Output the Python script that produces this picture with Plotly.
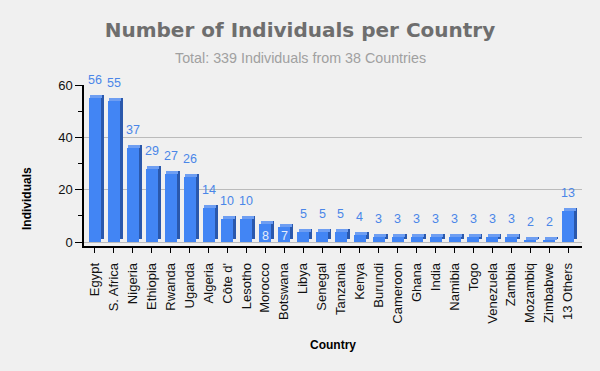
import plotly.graph_objects as go

countries = ["Egypt", "S. Africa", "Nigeria", "Ethiopia", "Rwanda", "Uganda", "Algeria",
             "Côte d'", "Lesotho", "Morocco", "Botswana", "Libya", "Senegal", "Tanzania",
             "Kenya", "Burundi", "Cameroon", "Ghana", "India", "Namibia", "Togo",
             "Venezuela", "Zambia", "Mozambiq", "Zimbabwe", "13 Others"]
counts = [56, 55, 37, 29, 27, 26, 14, 10, 10, 8, 7, 5, 5, 5, 4, 3, 3, 3, 3, 3, 3, 3, 3, 2, 2, 13]
label_inside = ["Morocco", "Botswana"]
y_tick_vals = [0, 20, 40, 60]
y_minor_vals = [10, 30, 50]

title_text = "Number of Individuals per Country"
subtitle_text = "Total: 339 Individuals from 38 Countries"

# style
FRONT = "#4285F4"
SIDE = "#2A58AC"
TOP = "#6E9EF2"
LABEL = "#4A86E8"
BG = "#F0F0F0"
FONT = "Liberation Sans"

W, H = 600, 371
ML, MR, MT, MB = 84, 18, 85, 125
plot_w = W - ML - MR
plot_h = H - MT - MB
y_range = [-1.5, 60]
px_per_unit = plot_h / (y_range[1] - y_range[0])
n = len(countries)
x_range = [-11 / 19, n - 1 + 14 / 19]
px_per_cat = plot_w / (x_range[1] - x_range[0])

bar_w = 12 / px_per_cat
dx = 3 / px_per_cat
dy = 3 / px_per_unit

idx = list(range(n))
front_h = [v - dy for v in counts]

fig = go.Figure()
# side (depth) face
fig.add_trace(go.Bar(x=idx, y=[v - dy for v in counts], base=[dy] * n, width=bar_w,
                     offset=-bar_w / 2 + dx, marker=dict(color=SIDE, line=dict(width=0)),
                     hoverinfo="skip", showlegend=False))
# top face
fig.add_trace(go.Bar(x=idx, y=[dy] * n, base=[v - dy for v in counts], width=bar_w,
                     offset=-bar_w / 2 + dx * 0.5, marker=dict(color=TOP, line=dict(width=0)),
                     hoverinfo="skip", showlegend=False))
# front face
fig.add_trace(go.Bar(x=idx, y=front_h, base=[0] * n, width=bar_w, offset=-bar_w / 2,
                     marker=dict(color=FRONT, line=dict(width=0)),
                     hovertemplate="%{customdata}: %{text}<extra></extra>",
                     customdata=countries, text=[str(v) for v in counts], textposition="none",
                     showlegend=False))

annotations = []
for i, (c, v) in enumerate(zip(countries, counts)):
    if c in label_inside:
        annotations.append(dict(x=i, y=0, xref="x", yref="y", text=str(v), showarrow=False,
                                xanchor="center", yanchor="middle", yshift=6,
                                font=dict(family=FONT, size=12.5, color="#E4ECFB")))
    else:
        annotations.append(dict(x=i, y=v, xref="x", yref="y", text=str(v), showarrow=False,
                                xanchor="center", yanchor="middle", yshift=15,
                                font=dict(family=FONT, size=12.5, color=LABEL)))

annotations += [
    dict(text=subtitle_text, xref="paper", yref="paper", x=(300 - ML) / plot_w,
         y=1 + (MT - 58) / plot_h, xanchor="center", yanchor="middle", showarrow=False,
         font=dict(family=FONT, size=14.3, color="#A0A0A0")),
    dict(text="<b>Individuals</b>", xref="paper", yref="paper", x=(27 - ML) / plot_w,
         y=(H - MB - 199) / plot_h, textangle=-90, xanchor="center", yanchor="middle",
         showarrow=False, font=dict(family=FONT, size=12, color="#000000")),
    dict(text="<b>Country</b>", xref="paper", yref="paper", x=0.5,
         y=(H - MB - 345) / plot_h, xanchor="center", yanchor="middle",
         showarrow=False, font=dict(family=FONT, size=12, color="#000000")),
]

fig.update_layout(
    width=W, height=H,
    margin=dict(l=ML, r=MR, t=MT, b=MB, pad=0),
    paper_bgcolor=BG, plot_bgcolor=BG,
    barmode="overlay", bargap=0,
    font=dict(family=FONT, size=12, color="#222222"),
    title=dict(text=title_text, x=0.5, xanchor="center", xref="container",
               y=1 - 30 / H, yanchor="middle", yref="container",
               font=dict(family="DejaVu Sans", size=20, color="#6E6E6E", weight="bold")),
    xaxis=dict(range=x_range, tickmode="array", tickvals=idx, ticktext=countries,
               tickangle=-90, ticks="outside", ticklen=5, tickcolor="#000000",
               ticklabelstandoff=5,
               showline=True, linecolor="#000000", linewidth=1.5, showgrid=False,
               zeroline=False, tickfont=dict(family=FONT, size=13, color="#111111"),
               fixedrange=True),
    yaxis=dict(range=y_range, tickmode="array", tickvals=y_tick_vals, ticks="outside",
               ticklen=7, tickcolor="#000000", showline=True, linecolor="#000000",
               linewidth=1.5, showgrid=True, gridcolor="#BBBBBB", gridwidth=1,
               zeroline=False, tickfont=dict(family=FONT, size=13, color="#111111"),
               minor=dict(tickvals=y_minor_vals, ticks="outside", ticklen=4,
                          tickcolor="#000000", showgrid=False),
               fixedrange=True),
    annotations=annotations,
)

fig.write_html("out.html", config={"displayModeBar": False},
               post_script="document.body.style.margin='0';"
                           "document.body.style.background='#F0F0F0';")
